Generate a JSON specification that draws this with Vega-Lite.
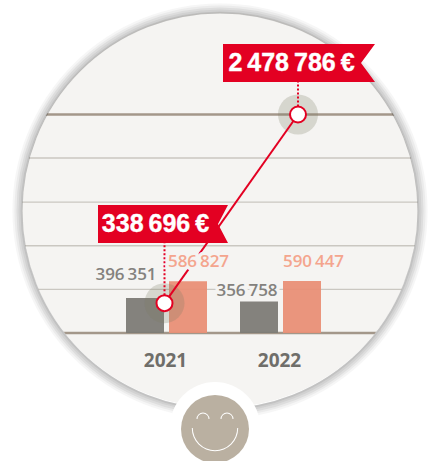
{
"$schema":"https://vega.github.io/schema/vega-lite/v6.json",
"width":430,"height":461,"padding":0,"autosize":"none",
"background":"#ffffff",
"config":{"view":{"stroke":null}},
"datasets":{
"bars":[
{"year":"2021","series":"A","value":396351,"label":"396\u2009351"},
{"year":"2021","series":"B","value":586827,"label":"586\u2009827"},
{"year":"2022","series":"A","value":356758,"label":"356\u2009758"},
{"year":"2022","series":"B","value":590447,"label":"590\u2009447"}],
"line":[
{"year":"2021","value":338696,"label":"338\u2009696\u2009€"},
{"year":"2022","value":2478786,"label":"2\u2009478\u2009786\u2009€"}],
"minor":[{"tick":495000},{"tick":990000},{"tick":1485000},{"tick":1985000}],
"major":[{"tick":0},{"tick":2478786}],
"one":[{}]
},
"resolve":{"scale":{"x":"independent"}},
"layer":[
{"data":{"name":"one"},"mark":{"type":"point","x":220,"y":210,"size":156816,"filled":true,"fill":"#f5f4f2","stroke":null,"opacity":1},"encoding":{}},
{"data":{"name":"minor"},"mark":{"type":"rule","color":"#cac7c1","strokeWidth":1.4},
 "encoding":{"y":{"field":"tick","type":"quantitative","axis":null,"scale":{"domain":[0,2478786],"range":[333,114.5]}}}},
{"data":{"name":"major"},"mark":{"type":"rule","color":"#a3978a","strokeWidth":2.4},
 "encoding":{"y":{"field":"tick","type":"quantitative","axis":null,"scale":{"domain":[0,2478786],"range":[333,114.5]}}}},
{"data":{"name":"one"},"mark":{"type":"point","x":220,"y":210,"size":802816,"filled":false,"stroke":"#ffffff","strokeWidth":500,"opacity":1},"encoding":{}},
{"data":{"name":"one"},"mark":{"type":"point","x":220,"y":211,"size":157609,"filled":false,"stroke":"#000000","strokeWidth":2,"opacity":0.06},"encoding":{}},
{"data":{"name":"one"},"mark":{"type":"point","x":220,"y":211,"size":159201,"filled":false,"stroke":"#000000","strokeWidth":4,"opacity":0.05},"encoding":{}},
{"data":{"name":"one"},"mark":{"type":"point","x":220,"y":211,"size":160801,"filled":false,"stroke":"#000000","strokeWidth":6,"opacity":0.05},"encoding":{}},
{"data":{"name":"one"},"mark":{"type":"point","x":220,"y":211,"size":162409,"filled":false,"stroke":"#000000","strokeWidth":8,"opacity":0.04},"encoding":{}},
{"data":{"name":"one"},"mark":{"type":"point","x":220,"y":211,"size":164025,"filled":false,"stroke":"#000000","strokeWidth":10,"opacity":0.03},"encoding":{}},
{"data":{"name":"bars"},"mark":{"type":"bar","width":38,"opacity":0.95},
 "encoding":{
 "x":{"field":"year","type":"nominal","axis":null,"scale":{"domain":["2021","2022"],"range":[109.5,337.5],"paddingInner":0,"paddingOuter":0}},
 "xOffset":{"field":"series","type":"nominal","scale":{"domain":["A","B"],"range":[14,100],"paddingInner":0,"paddingOuter":0}},
 "y":{"field":"value","type":"quantitative","axis":null,"scale":{"domain":[0,2478786],"range":[333,114.5]}},
 "color":{"field":"series","type":"nominal","legend":null,"scale":{"domain":["A","B"],"range":["#7d7b76","#e98f76"]}}}},
{"data":{"name":"line"},"mark":{"type":"point","filled":true,"size":1600,"fill":"#7c7a62","stroke":null,"opacity":0.25},
 "encoding":{
 "x":{"field":"year","type":"nominal","axis":null,"scale":{"type":"point","domain":["2021","2022"],"range":[164.5,298],"padding":0}},
 "y":{"field":"value","type":"quantitative","axis":null,"scale":{"domain":[0,2478786],"range":[333,114.5]}}}},
{"data":{"name":"line"},"mark":{"type":"line","color":"#e30022","strokeWidth":2},
 "encoding":{
 "x":{"field":"year","type":"nominal","axis":null,"scale":{"type":"point","domain":["2021","2022"],"range":[164.5,298],"padding":0}},
 "y":{"field":"value","type":"quantitative","axis":null,"scale":{"domain":[0,2478786],"range":[333,114.5]}}}},
{"data":{"name":"line"},"transform":[{"filter":"datum.year=='2022'"}],"mark":{"type":"rule","color":"#e30022","strokeWidth":2,"strokeDash":[2,2]},
 "encoding":{
 "x":{"field":"year","type":"nominal","axis":null,"scale":{"type":"point","domain":["2021","2022"],"range":[164.5,298],"padding":0}},
 "y":{"field":"value","type":"quantitative","axis":null,"scale":{"domain":[0,2478786],"range":[333,114.5]}},
 "y2":{"value":82}}},
{"data":{"name":"line"},"transform":[{"filter":"datum.year=='2021'"}],"mark":{"type":"rule","color":"#e30022","strokeWidth":2,"strokeDash":[2,2]},
 "encoding":{
 "x":{"field":"year","type":"nominal","axis":null,"scale":{"type":"point","domain":["2021","2022"],"range":[164.5,298],"padding":0}},
 "y":{"field":"value","type":"quantitative","axis":null,"scale":{"domain":[0,2478786],"range":[333,114.5]}},
 "y2":{"value":243}}},
{"data":{"name":"bars"},"transform":[{"filter":"datum.series=='B' && datum.year=='2021'"}],"mark":{"type":"text","font":"Open Sans","fontWeight":600,"fontSize":17,"dx":10.5,"dy":-19.5,"stroke":"#f5f4f2","strokeWidth":7,"strokeJoin":"round","fill":"#f5f4f2"},
 "encoding":{"text":{"field":"label"},
 "x":{"field":"year","type":"nominal","axis":null,"scale":{"domain":["2021","2022"],"range":[109.5,337.5],"paddingInner":0,"paddingOuter":0}},
 "xOffset":{"field":"series","type":"nominal","scale":{"domain":["A","B"],"range":[14,100],"paddingInner":0,"paddingOuter":0}},
 "y":{"field":"value","type":"quantitative","axis":null,"scale":{"domain":[0,2478786],"range":[333,114.5]}}}},
{"data":{"name":"bars"},"transform":[{"filter":"datum.series=='A' && datum.year=='2022'"}],"mark":{"type":"text","font":"Open Sans","fontWeight":600,"fontSize":17,"dx":-12,"dy":-10.5,"stroke":"#f5f4f2","strokeWidth":7,"strokeJoin":"round","fill":"#f5f4f2"},
 "encoding":{"text":{"field":"label"},
 "x":{"field":"year","type":"nominal","axis":null,"scale":{"domain":["2021","2022"],"range":[109.5,337.5],"paddingInner":0,"paddingOuter":0}},
 "xOffset":{"field":"series","type":"nominal","scale":{"domain":["A","B"],"range":[14,100],"paddingInner":0,"paddingOuter":0}},
 "y":{"field":"value","type":"quantitative","axis":null,"scale":{"domain":[0,2478786],"range":[333,114.5]}}}},
{"data":{"name":"bars"},"transform":[{"filter":"datum.series=='A' && datum.year=='2021'"}],"mark":{"type":"text","font":"Open Sans","fontWeight":600,"fontSize":17,"dx":-19,"dy":-23.5,"fill":"#84827e"},
 "encoding":{"text":{"field":"label"},
 "x":{"field":"year","type":"nominal","axis":null,"scale":{"domain":["2021","2022"],"range":[109.5,337.5],"paddingInner":0,"paddingOuter":0}},
 "xOffset":{"field":"series","type":"nominal","scale":{"domain":["A","B"],"range":[14,100],"paddingInner":0,"paddingOuter":0}},
 "y":{"field":"value","type":"quantitative","axis":null,"scale":{"domain":[0,2478786],"range":[333,114.5]}}}},
{"data":{"name":"bars"},"transform":[{"filter":"datum.series=='A' && datum.year=='2022'"}],"mark":{"type":"text","font":"Open Sans","fontWeight":600,"fontSize":17,"dx":-12,"dy":-10.5,"fill":"#84827e"},
 "encoding":{"text":{"field":"label"},
 "x":{"field":"year","type":"nominal","axis":null,"scale":{"domain":["2021","2022"],"range":[109.5,337.5],"paddingInner":0,"paddingOuter":0}},
 "xOffset":{"field":"series","type":"nominal","scale":{"domain":["A","B"],"range":[14,100],"paddingInner":0,"paddingOuter":0}},
 "y":{"field":"value","type":"quantitative","axis":null,"scale":{"domain":[0,2478786],"range":[333,114.5]}}}},
{"data":{"name":"bars"},"transform":[{"filter":"datum.series=='B' && datum.year=='2021'"}],"mark":{"type":"text","font":"Open Sans","fontWeight":600,"fontSize":17,"dx":10.5,"dy":-19.5,"fill":"#f4a58e"},
 "encoding":{"text":{"field":"label"},
 "x":{"field":"year","type":"nominal","axis":null,"scale":{"domain":["2021","2022"],"range":[109.5,337.5],"paddingInner":0,"paddingOuter":0}},
 "xOffset":{"field":"series","type":"nominal","scale":{"domain":["A","B"],"range":[14,100],"paddingInner":0,"paddingOuter":0}},
 "y":{"field":"value","type":"quantitative","axis":null,"scale":{"domain":[0,2478786],"range":[333,114.5]}}}},
{"data":{"name":"bars"},"transform":[{"filter":"datum.series=='B' && datum.year=='2022'"}],"mark":{"type":"text","font":"Open Sans","fontWeight":600,"fontSize":17,"dx":11.5,"dy":-19.2,"fill":"#f4a58e"},
 "encoding":{"text":{"field":"label"},
 "x":{"field":"year","type":"nominal","axis":null,"scale":{"domain":["2021","2022"],"range":[109.5,337.5],"paddingInner":0,"paddingOuter":0}},
 "xOffset":{"field":"series","type":"nominal","scale":{"domain":["A","B"],"range":[14,100],"paddingInner":0,"paddingOuter":0}},
 "y":{"field":"value","type":"quantitative","axis":null,"scale":{"domain":[0,2478786],"range":[333,114.5]}}}},
{"data":{"name":"line"},"mark":{"type":"point","filled":true,"size":256,"fill":"#ffffff","stroke":"#e30022","strokeWidth":2,"opacity":1},
 "encoding":{
 "x":{"field":"year","type":"nominal","axis":null,"scale":{"type":"point","domain":["2021","2022"],"range":[164.5,298],"padding":0}},
 "y":{"field":"value","type":"quantitative","axis":null,"scale":{"domain":[0,2478786],"range":[333,114.5]}}}},
{"data":{"name":"one"},"mark":{"type":"point","x":0,"y":0,"size":4,"filled":true,"fill":"#e30022","stroke":null,"opacity":1,"shape":"M223 44L375 44L361 63L375 82L223 82Z"},"encoding":{}},
{"data":{"name":"one"},"mark":{"type":"point","x":0,"y":0,"size":4,"filled":true,"fill":"#e30022","stroke":null,"opacity":1,"shape":"M98 205L228 205L218 224L228 243L98 243Z"},"encoding":{}},
{"data":{"name":"line"},"transform":[{"filter":"datum.year=='2022'"}],"mark":{"type":"text","font":"Liberation Sans","fontWeight":"bold","fontSize":25,"fill":"#ffffff","stroke":"#ffffff","strokeWidth":0.4,"dx":-6.5,"dy":-51.5},
 "encoding":{"text":{"field":"label"},
 "x":{"field":"year","type":"nominal","axis":null,"scale":{"type":"point","domain":["2021","2022"],"range":[164.5,298],"padding":0}},
 "y":{"field":"value","type":"quantitative","axis":null,"scale":{"domain":[0,2478786],"range":[333,114.5]}}}},
{"data":{"name":"line"},"transform":[{"filter":"datum.year=='2021'"}],"mark":{"type":"text","font":"Liberation Sans","fontWeight":"bold","fontSize":25,"fill":"#ffffff","stroke":"#ffffff","strokeWidth":0.4,"dx":-9,"dy":-79},
 "encoding":{"text":{"field":"label"},
 "x":{"field":"year","type":"nominal","axis":null,"scale":{"type":"point","domain":["2021","2022"],"range":[164.5,298],"padding":0}},
 "y":{"field":"value","type":"quantitative","axis":null,"scale":{"domain":[0,2478786],"range":[333,114.5]}}}},
{"data":{"name":"bars"},"transform":[{"filter":"datum.series=='A'"}],"mark":{"type":"text","font":"Open Sans","fontWeight":"bold","fontSize":19,"fill":"#6f6e6a","y":361,"dx":-1},
 "encoding":{"text":{"field":"year"},
 "x":{"field":"year","type":"nominal","axis":null,"scale":{"domain":["2021","2022"],"range":[109.5,337.5],"paddingInner":0,"paddingOuter":0}}}},
{"data":{"name":"one"},"mark":{"type":"rule","x":0,"x2":417,"y":451,"y2":451,"color":"#e30022","strokeWidth":2},"encoding":{}},
{"data":{"name":"one"},"mark":{"type":"rule","x":416.5,"x2":416.5,"y":451,"y2":461,"color":"#e30022","strokeWidth":2},"encoding":{}},
{"data":{"name":"one"},"mark":{"type":"point","x":215,"y":427,"size":8100,"filled":true,"fill":"#ffffff","stroke":null,"opacity":1},"encoding":{}},
{"data":{"name":"one"},"mark":{"type":"point","x":215,"y":429,"size":4624,"filled":true,"fill":"#bab0a1","stroke":null,"opacity":1},"encoding":{}},
{"data":{"name":"one"},"mark":{"type":"arc","x":215,"y":428,"innerRadius":22.2,"outerRadius":23.2,"theta":1.571,"theta2":4.712,"color":"#ffffff"},"encoding":{}},
{"data":{"name":"one"},"mark":{"type":"arc","x":203,"y":419,"innerRadius":5.5,"outerRadius":6.5,"theta":-1.571,"theta2":1.571,"color":"#ffffff"},"encoding":{}},
{"data":{"name":"one"},"mark":{"type":"arc","x":227,"y":419,"innerRadius":5.5,"outerRadius":6.5,"theta":-1.571,"theta2":1.571,"color":"#ffffff"},"encoding":{}}
]
}
